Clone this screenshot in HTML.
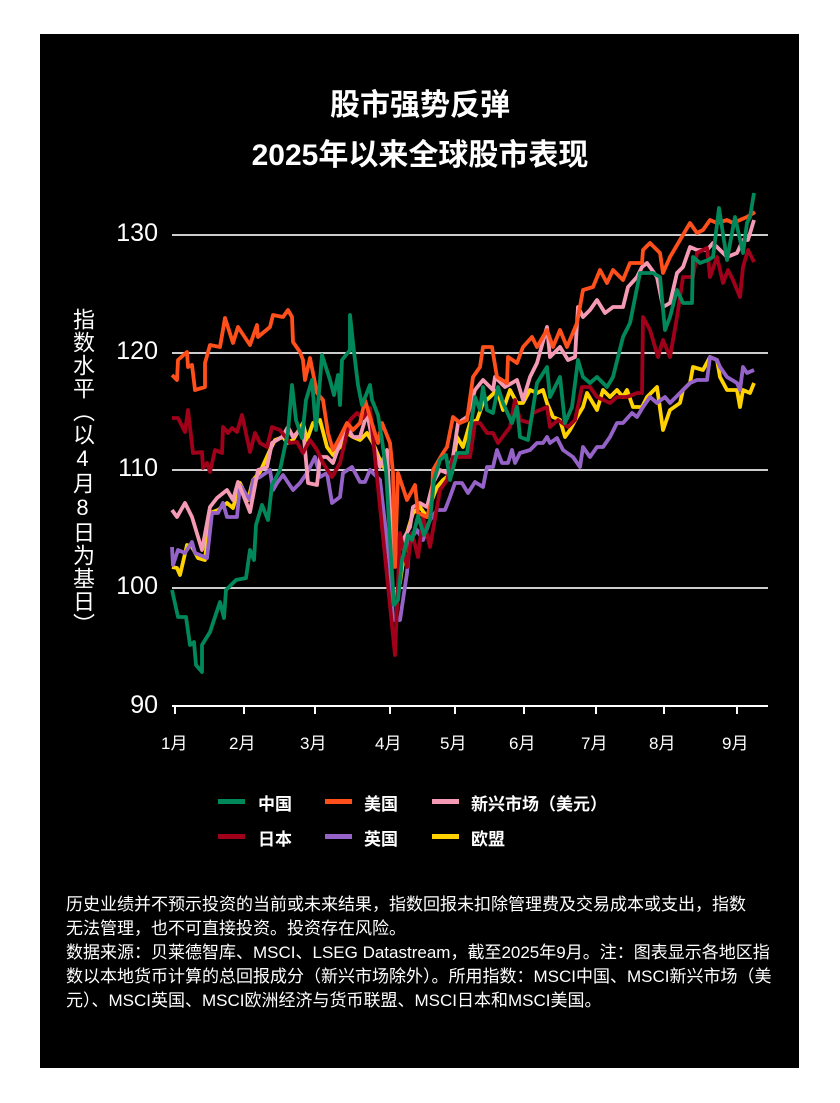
<!DOCTYPE html>
<html><head><meta charset="utf-8"><style>
body{margin:0;background:#fff;width:840px;height:1103px;position:relative;font-family:"Liberation Sans","Noto Sans CJK SC",sans-serif;}
#p{position:absolute;left:40px;top:34px;width:759px;height:1034px;background:#000;}
.t{position:absolute;color:#fff;white-space:nowrap;}
.title{left:0;width:840px;text-align:center;font-weight:bold;font-size:30px;}
.yl{font-size:25px;right:682px;}
.xl{font-size:17px;top:729px;}
.lg{font-size:17px;font-weight:bold;}
.fn{font-size:17px;left:66px;}
.sw{position:absolute;height:5px;width:27px;}
</style></head><body>
<div id="p"></div>
<div class="t title" style="top:80px">股市强势反弹</div>
<div class="t title" style="top:130px">2025年以来全球股市表现</div>
<div class="t" style="left:70px;top:308px;writing-mode:vertical-rl;font-size:22px;line-height:24px;letter-spacing:1px;text-orientation:upright">指数水平（以4月8日为基日）</div>
<div class="t yl" style="top:219px">130</div>
<div class="t yl" style="top:337px">120</div>
<div class="t yl" style="top:454px">110</div>
<div class="t yl" style="top:572px">100</div>
<div class="t yl" style="top:691px">90</div>
<svg style="position:absolute;left:0;top:0" width="840" height="1103">
<g stroke="#ccc" stroke-width="2"><line x1="172" y1="235" x2="768" y2="235"/><line x1="172" y1="353" x2="768" y2="353"/><line x1="172" y1="470" x2="768" y2="470"/><line x1="172" y1="588" x2="768" y2="588"/></g>
<line x1="172" y1="706" x2="768" y2="706" stroke="#fff" stroke-width="2"/>
<g stroke="#fff" stroke-width="2"><line x1="175" y1="706" x2="175" y2="714"/><line x1="244" y1="706" x2="244" y2="714"/><line x1="315" y1="706" x2="315" y2="714"/><line x1="390" y1="706" x2="390" y2="714"/><line x1="455" y1="706" x2="455" y2="714"/><line x1="524" y1="706" x2="524" y2="714"/><line x1="596" y1="706" x2="596" y2="714"/><line x1="664" y1="706" x2="664" y2="714"/><line x1="737" y1="706" x2="737" y2="714"/></g>
<g fill="none" stroke-width="3.8" stroke-linejoin="round">
<polyline stroke="#ffd200" points="172,567 177,568 180,575 187,545 192,547 198,558 205,560 210,513 218,510 227,503 233,508 240,483 248,500 253,480 260,472 270,450 275,440 283,437 287,443 293,440 303,423 307,440 313,423 320,420 327,447 333,455 340,447 347,433 353,437 360,440 367,433 373,443 380,460 387,473 393,600 400,583 407,533 413,513 420,507 427,517 432,500 437,487 443,480 452,473 457,437 463,447 470,423 477,420 483,403 490,397 497,390 503,410 510,390 517,403 523,403 530,390 537,393 543,390 547,403 553,417 560,420 565,437 570,430 577,417 583,407 587,393 597,410 603,390 610,397 617,390 623,397 627,390 633,407 642,407 647,397 657,387 663,430 670,410 680,403 683,390 690,383 693,367 703,370 710,357 717,360 720,377 727,390 737,390 740,407 743,390 750,393 754,383"/>
<polyline stroke="#9563c8" points="172,547 173,565 178,550 185,553 192,542 195,553 207,558 212,513 218,513 223,503 227,517 237,517 240,485 250,500 253,480 260,477 270,470 273,490 277,483 283,475 293,490 300,483 307,473 315,457 320,477 327,473 332,503 340,497 343,473 352,467 360,482 365,482 370,470 380,480 390,567 393,620 400,620 407,573 410,540 417,530 423,540 430,520 437,510 445,510 450,497 455,483 462,483 468,493 475,482 483,487 487,467 493,467 497,450 502,463 508,463 512,450 515,463 520,453 530,450 537,443 543,443 547,437 550,443 557,438 563,450 573,457 580,467 583,447 590,457 597,447 603,447 610,437 617,423 623,423 632,413 637,417 643,407 650,397 657,403 665,397 670,403 680,393 690,383 697,380 707,380 710,357 717,360 720,367 727,377 737,383 740,390 743,367 747,373 754,370"/>
<polyline stroke="#f59ab5" points="172,510 177,517 185,503 192,517 202,550 210,507 217,498 227,490 233,500 238,482 250,512 258,470 267,467 272,443 282,437 288,427 293,437 303,427 308,483 317,485 320,457 327,457 333,463 340,443 347,427 353,437 360,437 367,413 373,443 380,467 387,450 393,567 403,540 410,527 413,507 420,503 427,507 433,483 440,470 447,473 453,457 458,423 467,417 475,390 483,380 493,390 495,377 505,387 517,380 523,400 530,377 537,363 547,327 550,357 560,347 568,360 575,357 578,307 583,317 590,310 597,300 605,313 613,307 623,307 628,287 637,277 642,267 647,263 657,277 663,307 670,303 677,273 683,267 690,247 697,250 707,250 713,243 720,250 727,257 737,253 743,240 748,240 754,220"/>
<polyline stroke="#a0001a" points="172,418 178,418 185,432 188,410 193,453 202,452 203,468 207,463 210,472 215,450 222,453 223,427 228,433 232,428 237,432 242,415 250,452 255,433 260,443 267,447 272,427 280,430 290,443 297,442 303,453 310,440 317,450 323,463 332,477 340,463 350,420 357,413 363,418 370,408 395,655 400,533 407,567 412,533 418,557 423,517 430,547 440,490 447,480 453,457 460,457 470,457 475,423 480,423 487,433 493,433 498,443 510,427 515,400 520,420 530,423 533,413 547,407 550,427 558,420 568,427 575,420 582,387 590,387 597,397 610,403 617,397 627,397 637,393 642,393 643,317 650,330 658,357 663,340 670,357 677,317 683,277 693,277 697,253 707,248 710,277 717,257 723,283 728,270 733,280 740,297 743,267 748,250 754,262"/>
<polyline stroke="#ff4f1a" points="172,375 177,380 178,360 187,352 188,367 192,365 195,390 205,387 205,363 210,345 220,347 225,318 233,343 238,327 250,345 257,325 258,337 270,327 273,315 283,317 288,310 292,317 293,342 300,352 303,360 305,380 310,358 317,393 323,400 328,433 333,450 340,437 347,423 353,430 360,423 365,400 370,417 378,443 382,423 390,443 393,473 395,567 398,473 407,500 415,485 418,513 427,517 432,500 433,470 443,453 447,447 453,417 460,423 467,420 473,377 480,367 483,347 492,347 497,377 507,383 508,357 517,363 523,347 532,337 537,347 547,330 553,347 560,330 567,347 577,323 583,290 593,287 600,270 607,283 613,270 623,280 630,263 642,263 643,250 650,243 660,253 663,273 670,257 680,240 690,223 697,233 703,230 710,220 717,223 727,220 733,223 740,220 747,217 755,212"/>
<polyline stroke="#00875a" points="172,590 178,617 186,617 190,645 194,642 196,665 202,672 202,645 210,632 220,602 224,618 226,590 236,580 246,578 250,550 254,560 256,525 262,505 268,520 272,485 280,470 288,432 292,385 296,420 302,438 306,400 312,380 316,430 322,355 330,380 334,395 338,375 340,405 342,360 350,350 350,315 354,352 358,385 362,405 370,385 372,400 378,415 382,440 386,470 390,540 394,605 398,600 402,560 408,535 412,540 418,516 424,535 430,520 434,480 440,460 446,455 450,480 457,453 467,453 475,397 480,410 483,387 487,410 493,413 498,387 503,403 512,423 517,407 520,437 528,440 537,383 547,367 550,397 560,377 565,423 572,407 578,360 583,377 590,383 597,377 607,387 613,377 623,337 630,323 640,273 647,273 653,273 660,277 665,330 670,317 677,290 683,303 692,303 693,257 700,263 708,260 713,257 719,208 727,260 735,217 743,253 747,223 750,217 754,193"/>
</g>
</svg>
<div class="t xl" style="left:161px">1月</div>
<div class="t xl" style="left:229px">2月</div>
<div class="t xl" style="left:300px">3月</div>
<div class="t xl" style="left:375px">4月</div>
<div class="t xl" style="left:440px">5月</div>
<div class="t xl" style="left:509px">6月</div>
<div class="t xl" style="left:581px">7月</div>
<div class="t xl" style="left:649px">8月</div>
<div class="t xl" style="left:722px">9月</div>
<div class="sw" style="left:218px;top:799px;background:#00875a"></div><div class="t lg" style="left:258px;top:790px">中国</div>
<div class="sw" style="left:325px;top:799px;background:#ff4f1a"></div><div class="t lg" style="left:364px;top:790px">美国</div>
<div class="sw" style="left:432px;top:799px;background:#f59ab5"></div><div class="t lg" style="left:471px;top:790px">新兴市场（美元）</div>
<div class="sw" style="left:218px;top:834px;background:#a0001a"></div><div class="t lg" style="left:258px;top:825px">日本</div>
<div class="sw" style="left:325px;top:834px;background:#9563c8"></div><div class="t lg" style="left:364px;top:825px">英国</div>
<div class="sw" style="left:432px;top:834px;background:#ffd200"></div><div class="t lg" style="left:471px;top:825px">欧盟</div>
<div class="t fn" style="top:890px">历史业绩并不预示投资的当前或未来结果，指数回报未扣除管理费及交易成本或支出，指数</div>
<div class="t fn" style="top:914px">无法管理，也不可直接投资。投资存在风险。</div>
<div class="t fn" style="top:938px">数据来源：贝莱德智库、MSCI、LSEG Datastream，截至2025年9月。注：图表显示各地区指</div>
<div class="t fn" style="top:962px">数以本地货币计算的总回报成分（新兴市场除外）。所用指数：MSCI中国、MSCI新兴市场（美</div>
<div class="t fn" style="top:986px">元）、MSCI英国、MSCI欧洲经济与货币联盟、MSCI日本和MSCI美国。</div>
</body></html>
